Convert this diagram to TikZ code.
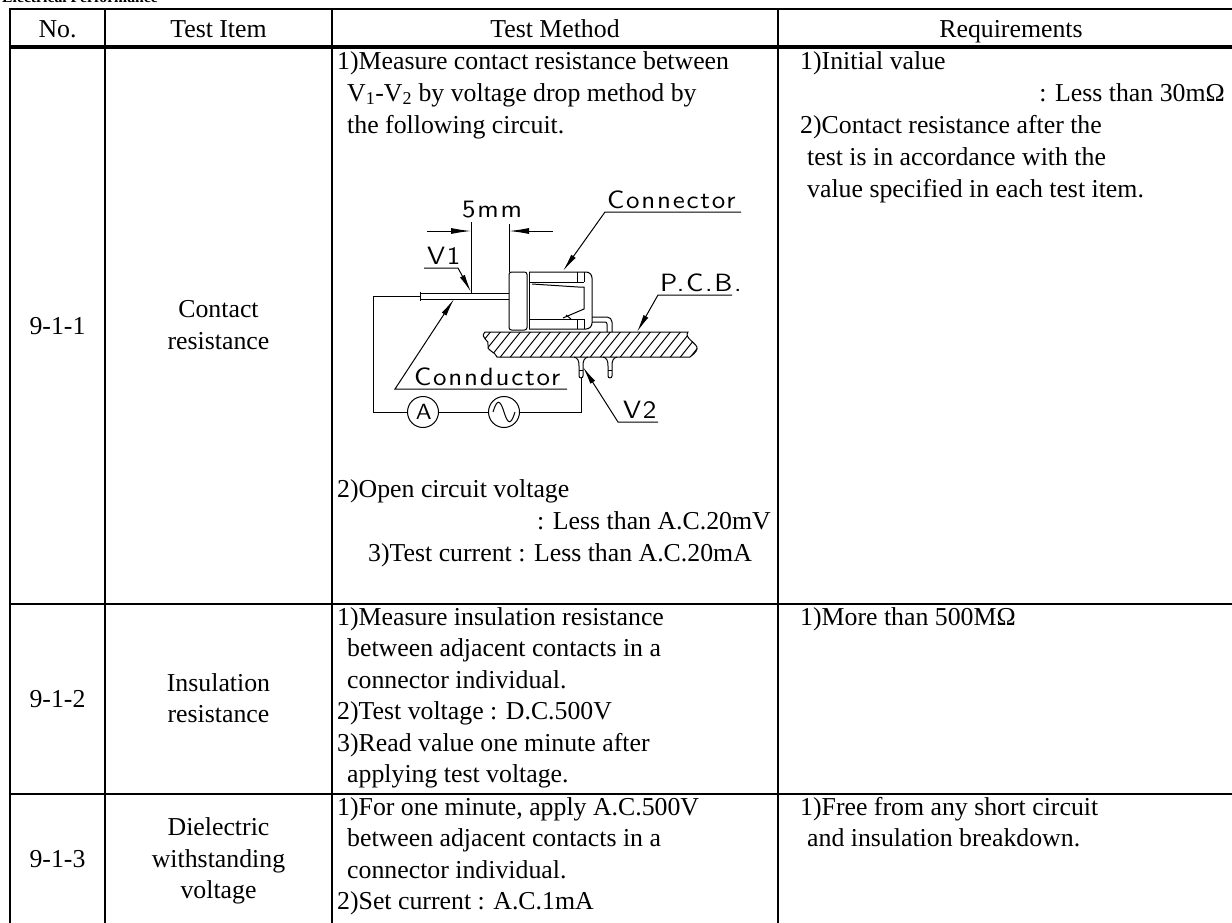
\documentclass[tikz,border=0pt]{standalone}
\usepackage{fontspec}
\setmainfont{Liberation Serif}
\newfontfamily\isofont[FakeStretch=1.08,LetterSpace=7]{lmsans10-regular.otf}
\usetikzlibrary{arrows.meta}
\tikzset{
  tabrule/.style={line width=2.2bp, line cap=rect},
  headrule/.style={line width=4bp},
  wire/.style={line width=1bp},
  leader/.style={line width=1bp, -{Latex[length=18bp,width=5.5bp]}},
  dimarrow/.style={line width=1bp, -{Latex[length=20bp,width=6bp]}},
  txt/.style={anchor=base west, inner sep=0pt},
  ctxt/.style={anchor=base, inner sep=0pt},
  rtxt/.style={anchor=base east, inner sep=0pt},
  lbl/.style={anchor=base west, inner sep=0pt, font=\isofont\fontsize{25bp}{28bp}\selectfont},
}
\begin{document}
\begin{tikzpicture}[x=1bp, y=-1bp, font=\fontsize{25.8bp}{32bp}\selectfont]
\useasboundingbox (0,0) rectangle (1232,923);
% title (cut off at the top)
\node[anchor=base west, inner sep=0pt, font=\bfseries\fontsize{15.7bp}{18bp}\selectfont] (title) at (2,2.5) {Electrical Performance};
% table rules
\draw[tabrule] (10,9) -- (1240,9);
\draw[headrule] (10,47) -- (1240,47);
\draw[tabrule] (10,604) -- (1240,604);
\draw[tabrule] (10,794) -- (1240,794);
\foreach \xx in {10,105,332,778} \draw[tabrule] (\xx,9) -- (\xx,930);
% header
\node[ctxt] (hNo) at (57.5,37) {No.};
\node[ctxt] (hItem) at (218.5,37) {Test Item};
\node[ctxt] (hMeth) at (555,37) {Test Method};
\node[ctxt] (hReq) at (1011,37) {Requirements};
% row 1
\node[ctxt] (n1) at (57.5,334) {9-1-1};
\node[ctxt] (i1a) at (218.5,317) {Contact};
\node[ctxt] (i1b) at (218.5,349) {resistance};
\node[txt] (m1a) at (337,69) {1)Measure contact resistance between};
\node[txt] (m1b) at (347,101) {V\textsubscript{1}-V\textsubscript{2} by voltage drop method by};
\node[txt] (m1c) at (347,133) {the following circuit.};
\node[txt] (m1d) at (337,497) {2)Open circuit voltage};
\node[rtxt] (m1e) at (771,529) {: Less than A.C.20mV};
\node[txt] (m1f) at (368,561) {3)Test current : Less than A.C.20mA};
\node[txt] (r1a) at (800,69) {1)Initial value};
\node[rtxt] (r1b) at (1225,101) {: Less than 30mΩ};
\node[txt] (r1c) at (800,133) {2)Contact resistance after the};
\node[txt] (r1d) at (807,165) {test is in accordance with the};
\node[txt] (r1e) at (807,197) {value specified in each test item.};
% row 2
\node[ctxt] (n2) at (57.5,707.5) {9-1-2};
\node[ctxt] (i2a) at (218.5,691) {Insulation};
\node[ctxt] (i2b) at (218.5,722.5) {resistance};
\node[txt] (m2a) at (337,625) {1)Measure insulation resistance};
\node[txt] (m2b) at (347,656.5) {between adjacent contacts in a};
\node[txt] (m2c) at (347,688) {connector individual.};
\node[txt] (m2d) at (337,719.5) {2)Test voltage : D.C.500V};
\node[txt] (m2e) at (337,751) {3)Read value one minute after};
\node[txt] (m2f) at (347,782.5) {applying test voltage.};
\node[txt] (r2a) at (800,625) {1)More than 500MΩ};
% row 3
\node[ctxt] (n3) at (57.5,867) {9-1-3};
\node[ctxt] (i3a) at (218.5,835.5) {Dielectric};
\node[ctxt] (i3b) at (218.5,867) {withstanding};
\node[ctxt] (i3c) at (218.5,898.5) {voltage};
\node[txt] (m3a) at (337,815) {1)For one minute, apply A.C.500V};
\node[txt] (m3b) at (347,846.5) {between adjacent contacts in a};
\node[txt] (m3c) at (347,878) {connector individual.};
\node[txt] (m3d) at (337,909.5) {2)Set current : A.C.1mA};
\node[txt] (r3a) at (800,815) {1)Free from any short circuit};
\node[txt] (r3b) at (807,846.5) {and insulation breakdown.};

% ---------- test circuit drawing ----------
% PCB
\def\pcbpath{(485,332) -- (688,332) .. controls (683,338) and (699,344) .. (697,349) .. controls (696,353) and (692,355) .. (690,357) -- (497,357) .. controls (496,352) and (485,350) .. (488,345) .. controls (491,341) and (479,338) .. (485,332) -- cycle}
\begin{scope}
  \clip \pcbpath;
  \foreach \i in {0,...,24} \draw[wire] ({468+\i*10},360) -- ++(24,-30);
\end{scope}
\draw[wire] \pcbpath;
% leads under the PCB
\foreach \lx in {581,610} {
  \draw[wire] ({\lx-7},357) .. controls ({\lx-3},358) and ({\lx-2},361) .. ({\lx-2},366) -- ({\lx-2},376)
     .. controls ({\lx-2},378.5) and ({\lx+2},378.5) .. ({\lx+2},376) -- ({\lx+2},366)
     .. controls ({\lx+2},361) and ({\lx+3},358) .. ({\lx+7},357);
  \draw[wire] ({\lx-2},370) -- ({\lx+2},370);
}
% connector body
\draw[wire, rounded corners=2.5bp] (509,272) rectangle (527,330);
\draw[wire, rounded corners=6bp] (529,272) -- (592,272) -- (592,329) -- (529,329);
\draw[wire] (529,272) -- (529,329);
\draw[wire] (529,282) -- (584,282) (577,272) -- (577,282) (584,272) -- (584,282);
\draw[wire] (532,284) -- (578,287) -- (584,287) -- (584,309) -- (563,318);
\draw[wire] (566,315) -- (571,319);
\draw[wire] (529,319) -- (584,319) (577,319) -- (577,329) (584,319) -- (584,329);
% pin
\draw[wire, rounded corners=5bp] (592,317) -- (612,317) -- (612,332);
\draw[wire, rounded corners=2bp] (592,322) -- (607,322) -- (607,332);
% conductor
\draw[wire] (420,293) -- (509,293) (420,299) -- (509,299) (420,291.5) -- (420,300.5);
% circuit
\coordinate (cL) at (420,296);
\coordinate (tl) at (373,296);
\coordinate (bl) at (373,412);
\coordinate (br) at (581,412);
\coordinate (lead) at (581,378);
\node[circle, draw, wire, minimum size=31bp, inner sep=0pt, font=\isofont\fontsize{22bp}{22bp}\selectfont] (amm) at (423,412) {A\kern-0.07em};
\node[circle, draw, wire, minimum size=31bp, inner sep=0pt] (src) at (504,412) {};
\draw[wire] ([xshift=-11bp]src.center) .. controls +(4,-13) and +(-4,-13) .. (src.center) .. controls +(4,13) and +(-4,13) .. ([xshift=11bp]src.center);
\draw[wire] (cL) -- (tl) -- (bl) -- (amm);
\draw[wire] (amm) -- (src);
\draw[wire] (src) -- (br) -- (lead);
% dimension 5mm
\coordinate (d1a) at (471,222); \coordinate (d1b) at (471,293);
\coordinate (d2a) at (509,224); \coordinate (d2b) at (509,272);
\draw[wire] (d1a) -- (d1b) (d2a) -- (d2b);
\coordinate (dL) at (427,231); \coordinate (dLt) at (471,231);
\coordinate (dR) at (553,231); \coordinate (dRt) at (509,231);
\draw[dimarrow] (dL) -- (dLt);
\draw[dimarrow] (dR) -- (dRt);
\node[lbl] (l5mm) at (462,217) {5mm};
% labels with leaders
\node[lbl] (lV1) at (427,264) {V1};
\coordinate (lV1a) at (424,268); \coordinate (lV1b) at (458,268); \coordinate (lV1t) at (471,292);
\draw[leader] (lV1a) -- (lV1b) -- (lV1t);
\node[lbl] (lCon) at (607,208) {Connector};
\coordinate (lConA) at (741,212); \coordinate (lConB) at (605,212); \coordinate (lConT) at (563,271);
\draw[leader] (lConA) -- (lConB) -- (lConT);
\node[lbl] (lPCB) at (660,291) {P.C.B.};
\coordinate (lPCBA) at (732,295); \coordinate (lPCBB) at (658,295); \coordinate (lPCBT) at (637,332);
\draw[leader] (lPCBA) -- (lPCBB) -- (lPCBT);
\node[lbl] (lCd) at (414,385) {Connductor};
\coordinate (lCdA) at (567,389); \coordinate (lCdB) at (395,389); \coordinate (lCdT) at (454,299);
\draw[leader] (lCdA) -- (lCdB) -- (lCdT);
\node[lbl] (lV2) at (623,418) {V2};
\coordinate (lV2A) at (658,422); \coordinate (lV2B) at (618,422); \coordinate (lV2T) at (583,367);
\draw[leader] (lV2A) -- (lV2B) -- (lV2T);
\end{tikzpicture}
\end{document}
